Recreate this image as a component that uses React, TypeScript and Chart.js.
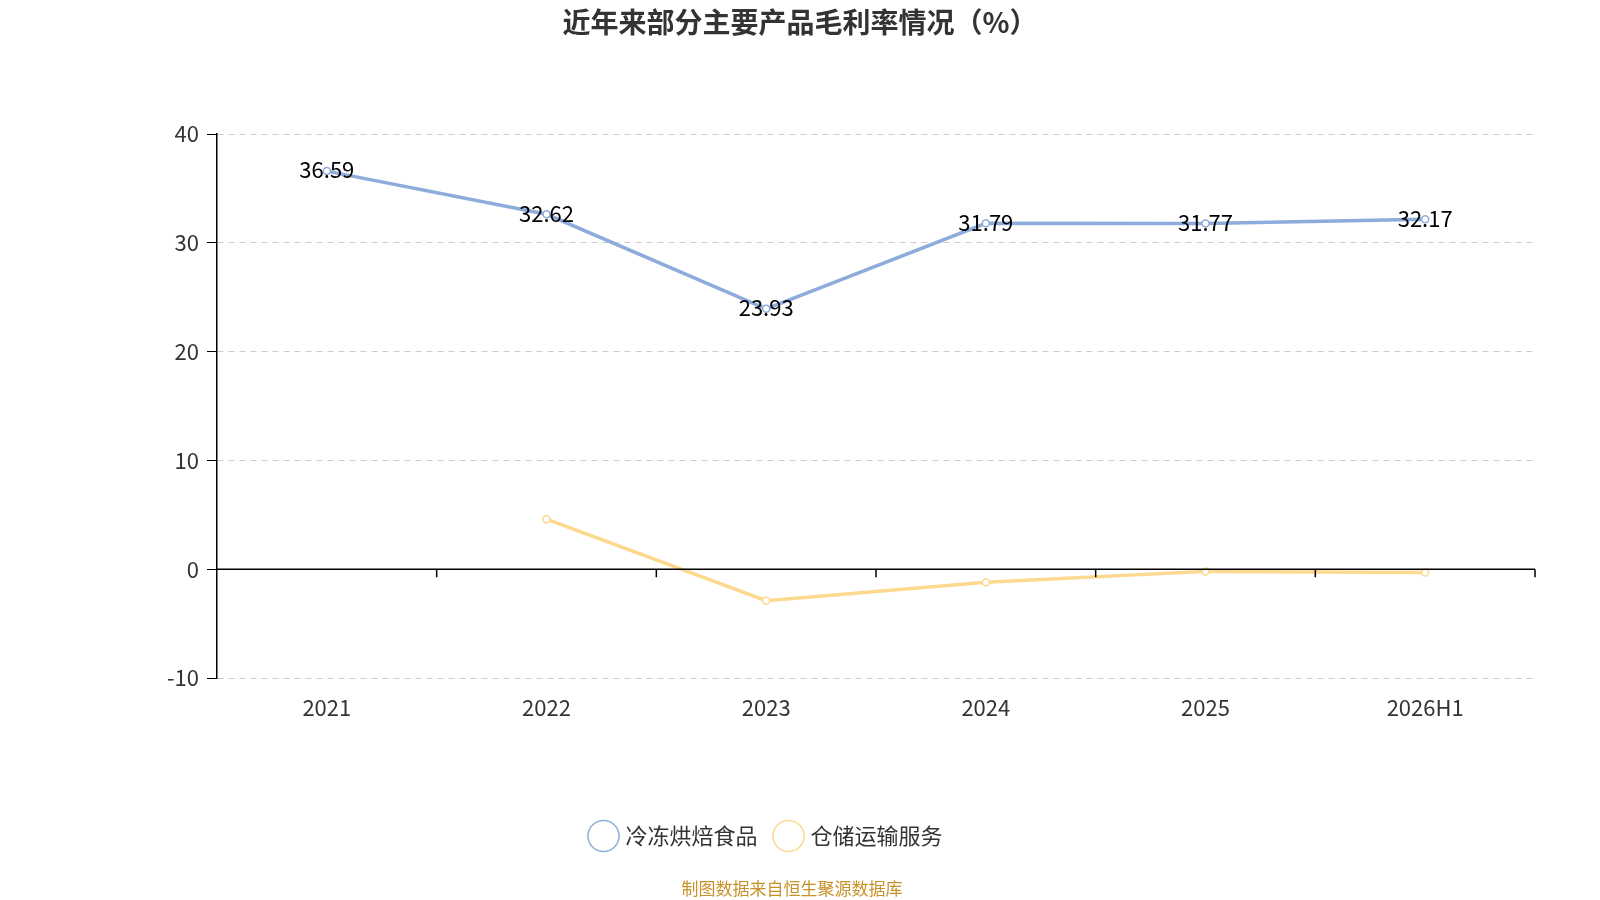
import React, { useEffect, useRef } from "react";
import { Chart, registerables } from "chart.js";
Chart.register(...registerables);

const categories = ["2021", "2022", "2023", "2024", "2025", "2026H1"];
const frozenBakery = [36.59, 32.62, 23.93, 31.79, 31.77, 32.17];
const logistics = [null, 4.6, -2.9, -1.2, -0.2, -0.3];
const yTicks = { min: -10, max: 40, step: 10 };
const FONT = "'Noto Sans CJK SC', 'Noto Sans', sans-serif";

const overlay = {
  id: "overlay",
  afterDatasetsDraw(chart: any) {
    const { ctx, scales, chartArea, width, height } = chart;
    const y0 = scales.y.getPixelForValue(0);
    ctx.save();
    ctx.strokeStyle = "#000";
    ctx.lineWidth = 1.5;
    ctx.beginPath();
    ctx.moveTo(chartArea.left, y0);
    ctx.lineTo(chartArea.right, y0);
    const step = (chartArea.right - chartArea.left) / categories.length;
    for (let i = 1; i <= categories.length; i++) {
      const x = chartArea.left + step * i;
      ctx.moveTo(x, y0);
      ctx.lineTo(x, y0 + 8);
    }
    ctx.stroke();
    ctx.fillStyle = "#000";
    ctx.font = `22px ${FONT}`;
    ctx.textAlign = "center";
    ctx.textBaseline = "middle";
    const meta = chart.getDatasetMeta(0);
    meta.data.forEach((p: any, i: number) => {
      ctx.fillText(frozenBakery[i].toFixed(2), p.x, p.y - 1);
    });
    ctx.fillStyle = "#333";
    ctx.font = `bold 28px ${FONT}`;
    ctx.fillText("近年来部分主要产品毛利率情况（%）", width / 2, 22);
    ctx.fillStyle = "#c8922a";
    ctx.font = `17px ${FONT}`;
    ctx.fillText("制图数据来自恒生聚源数据库", width / 2 - 8, height - 11);
    ctx.restore();
  },
};

export default function App() {
  const ref = useRef<HTMLCanvasElement>(null);
  useEffect(() => {
    document.body.style.margin = "0";
    const chart = new Chart(ref.current!, {
      type: "line",
      data: {
        labels: categories,
        datasets: [
          {
            label: "冷冻烘焙食品",
            data: frozenBakery,
            borderColor: "#8eacdb",
            backgroundColor: "#fff",
            borderWidth: 3.5,
            pointRadius: 3.5,
            pointBorderWidth: 1.5,
            pointBorderColor: "#8eacdb",
            pointBackgroundColor: "#fff",
          },
          {
            label: "仓储运输服务",
            data: logistics,
            borderColor: "#fdd88f",
            backgroundColor: "#fff",
            borderWidth: 3.5,
            pointRadius: 3.5,
            pointBorderWidth: 1.5,
            pointBorderColor: "#fdd88f",
            pointBackgroundColor: "#fff",
          },
        ],
      },
      options: {
        animation: false,
        responsive: false,
        layout: { padding: { top: 134, right: 65, left: 0, bottom: 43 } },
        plugins: {
          legend: {
            position: "bottom",
            labels: {
              usePointStyle: true,
              pointStyle: "circle",
              boxWidth: 22,
              boxHeight: 22,
              font: { family: FONT, size: 22 },
              color: "#333",
              padding: 20,
            },
          },
          tooltip: { enabled: false },
        },
        scales: {
          x: {
            offset: true,
            grid: { display: false },
            border: { display: false },
            ticks: { font: { family: FONT, size: 22 }, color: "#333", padding: 8 },
            afterFit: (s: any) => { s.height = 127; },
          },
          y: {
            min: yTicks.min,
            max: yTicks.max,
            ticks: { stepSize: yTicks.step, font: { family: FONT, size: 22 }, color: "#333", padding: 8 },
            grid: { color: "#ccc", lineWidth: 1, tickLength: 10, tickColor: "#000" },
            border: { display: true, color: "#000", width: 1.5, dash: [6, 5] },
            afterFit: (s: any) => { s.width = 217; },
          },
        },
      },
      plugins: [overlay],
    });
    return () => chart.destroy();
  }, []);
  return <canvas ref={ref} width={1600} height={900} style={{ display: "block" }} />;
}
